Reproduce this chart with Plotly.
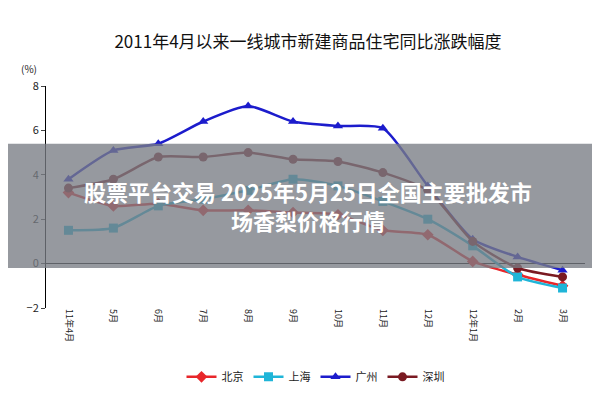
import plotly.graph_objects as go

# months from 2011-04 to 2012-03
months = ['11年4月', '5月', '6月', '7月', '8月', '9月', '10月', '11月', '12月', '12年1月', '2月', '3月']
beijing = [3.2, 2.6, 2.7, 2.4, 2.4, 2.3, 2.2, 1.5, 1.3, 0.1, -0.5, -1.0]
shanghai = [1.5, 1.6, 2.6, 2.9, 3.3, 3.8, 3.5, 2.8, 2.0, 0.8, -0.6, -1.1]
guangzhou = [3.8, 5.1, 5.4, 6.4, 7.1, 6.4, 6.2, 6.1, 3.5, 1.1, 0.3, -0.3]
shenzhen = [3.4, 3.8, 4.8, 4.8, 5.0, 4.7, 4.6, 4.1, 3.3, 1.0, -0.2, -0.6]

series = [
    ('北京', beijing, '#e8262a', 'diamond'),
    ('上海', shanghai, '#1fb5d8', 'square'),
    ('广州', guangzhou, '#1c1ccc', 'triangle-up'),
    ('深圳', shenzhen, '#7a1a22', 'circle'),
]

fig = go.Figure()
for name, vals, color, sym in series:
    fig.add_trace(go.Scatter(
        x=months, y=vals, name=name, mode='lines+markers',
        line=dict(color=color, width=2.5, shape='spline', smoothing=0.6),
        marker=dict(symbol=sym, size=9, color=color),
    ))

fig.update_layout(
    width=600, height=400,
    margin=dict(l=38, r=23, t=78, b=100),
    paper_bgcolor='white', plot_bgcolor='white',
    font=dict(family='Noto Sans CJK SC', color='#222'),
    title=dict(text='2011年4月以来一线城市新建商品住宅同比涨跌幅度', x=0.5, y=0.93,
               font=dict(size=17, color='#111')),
    showlegend=True,
    legend=dict(orientation='h', x=0.5, xanchor='center', y=-0.31, yanchor='middle',
                font=dict(size=11)),
    xaxis=dict(range=[-0.5, 11.5], tickangle=90, tickfont=dict(size=9),
               showline=False, showgrid=False, ticks=''),
    yaxis=dict(range=[-2, 8], dtick=2, showgrid=False, showline=True, linecolor='#000',
               ticks='outside', ticklen=4, zeroline=True, zerolinecolor='#000',
               zerolinewidth=1, tickfont=dict(size=11)),
    shapes=[dict(type='rect', xref='paper', yref='paper', x0=-0.2, x1=1.2,
                 y0=0.18, y1=0.74, fillcolor='rgba(120,124,132,0.78)', line=dict(width=0))],
    annotations=[
        dict(text='(%)', xref='paper', yref='paper', x=-0.05, y=1.12, showarrow=False,
             font=dict(size=10)),
        dict(text='<b>股票平台交易 2025年5月25日全国主要批发市<br>场香梨价格行情</b>',
             xref='paper', yref='paper', x=0.486, y=0.46, showarrow=False,
             font=dict(size=22, color='white'), align='center'),
    ],
)

fig.write_html('out.html')
